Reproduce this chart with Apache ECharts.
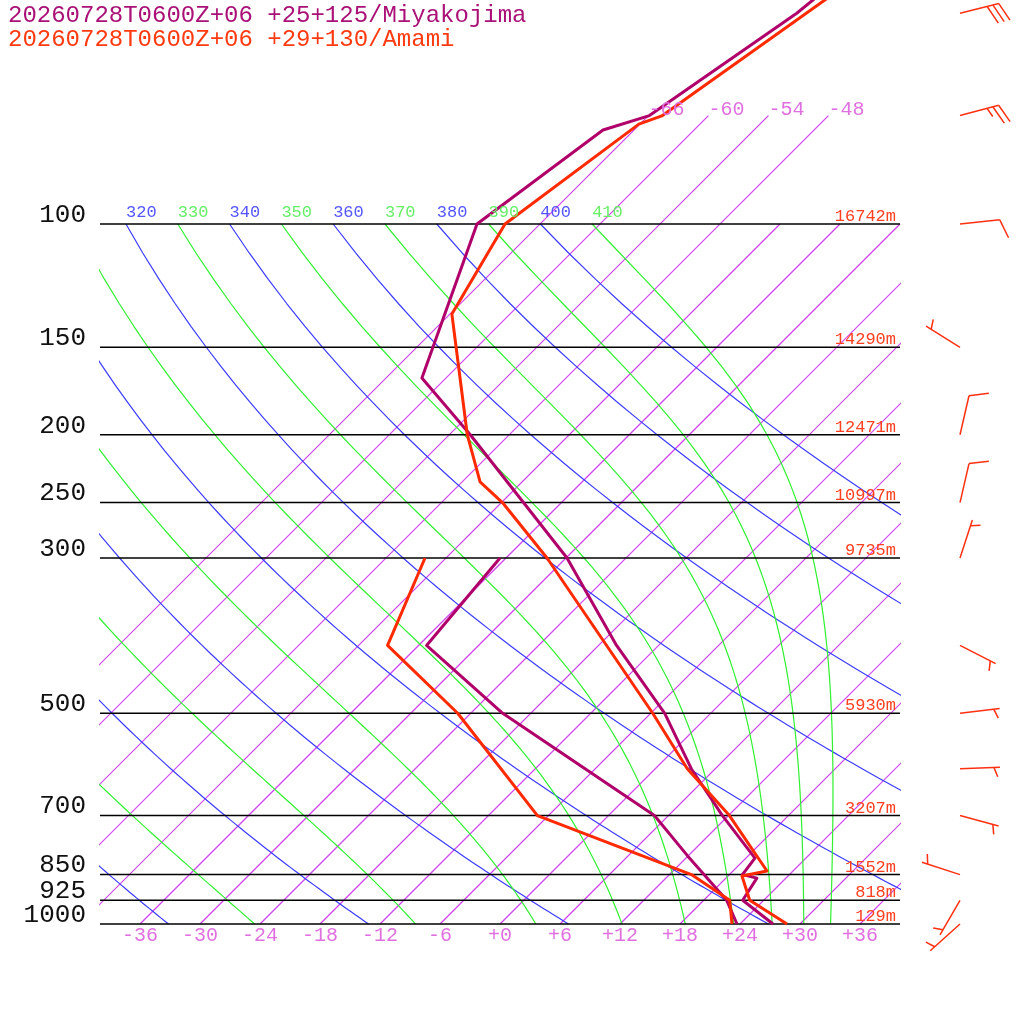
<!DOCTYPE html>
<html>
<head>
<meta charset="utf-8">
<script src="https://cdn.jsdelivr.net/npm/echarts@6/dist/echarts.min.js"></script>
<style>
html,body{margin:0;padding:0;background:#fff;}
#chart{width:1024px;height:1024px;}
</style>
</head>
<body>
<div id="chart"></div>
<script>
// sounding data: pressure (hPa) and temperature (C)
var miyaTempP = [40, 50, 70, 73.4, 100, 166, 200, 300, 400, 500, 600, 700, 805, 850, 860, 925, 1000]
var miyaTempT = [-59.9, -61.4, -65.9, -69.1, -72.3, -62.4, -51.9, -29.9, -16.2, -4.6, 3.6, 11.4, 18.9, 19.3, 21.1, 21.9, 27.3]
var miyaDewP = [300, 400, 500, 700, 800, 925, 1000]
var miyaDewT = [-36.6, -35.2, -20.8, 4.6, 12.0, 20.3, 23.7]

var amamiTempP = [40, 70, 72, 100, 134.5, 200, 233.6, 250, 300, 500, 600, 700, 840, 854, 925, 1000]
var amamiTempT = [-57.7, -64.6, -66.1, -69.5, -65.8, -52.2, -46.2, -41.9, -31.9, -5.8, 3.2, 12.1, 21.4, 19.4, 22.6, 28.7]
var amamiDewP = [300, 400, 500, 700, 850, 925, 1000]
var amamiDewT = [-44.1, -39.1, -25.3, -7.1, 14.2, 20.6, 23.2]

// Amami winds
var windP = [50, 70, 100, 150, 200, 250, 300, 400, 500, 600, 700, 850, 925, 1000]
var windDir = [76, 75, 84, 302, 13, 13, 18, 117, 83, 88, 105, 288, 210, 228]
var windKt = [30, 25, 10, 5, 10, 10, 5, 5, 5, 5, 5, 5, 5, 5]

// levels and heights
var levels = [100, 150, 200, 250, 300, 500, 700, 850, 925, 1000]
var heights = ['16742m', '14290m', '12471m', '10997m', '9735m', '5930m', '3207m', '1552m', '818m', '129m']

// background lines
var isotherms = [-66, -60, -54, -48, -42, -36, -30, -24, -18, -12, -6, 0, 6, 12, 18, 24, 30, 36]
var tempTicks = [-36, -30, -24, -18, -12, -6, 0, 6, 12, 18, 24, 30, 36]
var topIsoLabels = [-66, -60, -54, -48]
var dryThetas = [200, 220, 240, 260, 280, 300, 320, 340, 360, 380, 400]
var moistThetas = [230, 250, 270, 290, 310, 330, 350, 370, 390, 410]
var thetaLabels = [320, 330, 340, 350, 360, 370, 380, 390, 400, 410]

var SKEW = 70
var P_TOP = 1000 / Math.pow(10, 924 / 700)
var MONO = '"Liberation Mono", "DejaVu Sans Mono", monospace'

function sx(t, p) { return t + SKEW * Math.log10(1000 / p) }
function lp(p) { return Math.log10(p) }
function profile(ps, ts) { return ps.map(function (p, i) { return [sx(ts[i], p), lp(p)] }) }

function dryLine(th) {
    var pts = []
    for (var p = 100; p <= 1000; p += 10) pts.push([sx(th * Math.pow(p / 1000, 0.2857) - 273.15, p), lp(p)])
    return pts
}
function moistLine(th) {
    var T = th * Math.pow(0.1, 0.2857), p = 100, pts = [[sx(T - 273.15, p), lp(p)]]
    var Rd = 287, cp = 1005, L = 2.5e6
    function dTdp(T, p) {
        var tc = T - 273.15
        var es = 6.112 * Math.exp(17.67 * tc / (tc + 243.5))
        var rs = 0.622 * es / (p - es)
        return (Rd * T + L * rs) / (p * (cp + L * L * rs * 0.622 / (Rd * T * T)))
    }
    var dp = 1
    while (p < 1000) {
        var k1 = dTdp(T, p), k2 = dTdp(T + k1 * dp / 2, p + dp / 2), k3 = dTdp(T + k2 * dp / 2, p + dp / 2), k4 = dTdp(T + k3 * dp, p + dp)
        T += dp * (k1 + 2 * k2 + 2 * k3 + k4) / 6
        p += dp
        if (Math.round(p) % 10 === 0) pts.push([sx(T - 273.15, p), lp(p)])
    }
    return pts
}

// one custom series per polyline, drawn with explicit stroke and clipped to the grid
function lineSeries(pts, color, width, z) {
    return {
        type: 'custom', coordinateSystem: 'cartesian2d', xAxisIndex: 0, yAxisIndex: 0, silent: true, animation: false,
        z: z, data: [pts[0]],
        renderItem: function (params, api) {
            var px = pts.map(function (d) { return api.coord(d) })
            var cs = params.coordSys
            return { type: 'polyline', shape: { points: px },
                style: { stroke: color, lineWidth: width, fill: null, lineJoin: 'round' },
                clipPath: { type: 'rect', shape: { x: cs.x - 1, y: cs.y, width: cs.width + 2, height: cs.height + 2 } } }
        }
    }
}

function textSeries(items, z) {
    return {
        type: 'custom', coordinateSystem: 'cartesian2d', xAxisIndex: 0, yAxisIndex: 0, silent: true, animation: false, z: z,
        data: items.map(function (d) { return [d.x, d.y] }),
        renderItem: function (params, api) {
            var d = items[params.dataIndex]
            var c = api.coord([api.value(0), api.value(1)])
            return { type: 'text', x: c[0] + (d.dx || 0), y: c[1] + (d.dy || 0),
                style: { text: d.text, fill: d.color, font: d.font, align: d.align, verticalAlign: d.va } }
        }
    }
}

var series = []
isotherms.forEach(function (t) {
    var pt = t <= -48 ? 70 : 100
    series.push(lineSeries([[sx(t, 1000), 3], [sx(t, pt), lp(pt)]], '#d040f0', 1.2, 1))
})
dryThetas.forEach(function (th) { series.push(lineSeries(dryLine(th), '#3c3cff', 1.2, 2)) })
moistThetas.forEach(function (th) { series.push(lineSeries(moistLine(th), '#30f030', 1.2, 2)) })
levels.forEach(function (p) { series.push(lineSeries([[-40, lp(p)], [40, lp(p)]], '#000', 1.5, 3)) })

series.push(lineSeries(profile(miyaTempP, miyaTempT), '#b0006a', 3, 10))
series.push(lineSeries(profile(miyaDewP, miyaDewT), '#b0006a', 3, 10))
series.push(lineSeries(profile(amamiTempP, amamiTempT), '#ff2a00', 3, 11))
series.push(lineSeries(profile(amamiDewP, amamiDewT), '#ff2a00', 3, 11))

// labels
series.push(textSeries(levels.map(function (p) {
    return { x: -40, y: lp(p), text: String(p), color: '#111', font: '26px ' + MONO, align: 'right', va: 'bottom', dx: -14, dy: 4 }
}), 20))
series.push(textSeries(levels.map(function (p, i) {
    return { x: 40, y: lp(p), text: heights[i], color: '#ff4020', font: '17px ' + MONO, align: 'right', va: 'bottom', dx: -4, dy: 1 }
}), 20))
series.push(textSeries(tempTicks.map(function (t) {
    return { x: t, y: 3, text: (t < 0 ? '' : '+') + t, color: '#e070e0', font: '20px ' + MONO, align: 'center', va: 'top', dy: 2 }
}), 20))
series.push(textSeries(topIsoLabels.map(function (t) {
    return { x: sx(t, 70), y: lp(70), text: String(t), color: '#e070e0', font: '20px ' + MONO, align: 'left', va: 'bottom', dy: 4 }
}), 20))
series.push(textSeries(thetaLabels.map(function (th) {
    return { x: sx(th * Math.pow(0.1, 0.2857) - 273.15, 100), y: lp(100), text: String(th),
        color: (th / 10) % 2 === 0 ? '#5555ff' : '#66ee66', font: '17px ' + MONO, align: 'left', va: 'bottom', dy: -3 }
}), 20))

// wind barbs
series.push({
    type: 'custom', coordinateSystem: 'cartesian2d', xAxisIndex: 1, yAxisIndex: 1, silent: true, animation: false, z: 15,
    data: windP.map(function (p) { return [0, lp(p)] }),
    renderItem: function (params, api) {
        var i = params.dataIndex
        var b = api.coord([api.value(0), api.value(1)])
        var a = windDir[i] * Math.PI / 180
        var ux = Math.sin(a), uy = -Math.cos(a)
        var r = 70 * Math.PI / 180
        var vx = ux * Math.cos(r) - uy * Math.sin(r), vy = ux * Math.sin(r) + uy * Math.cos(r)
        var L = 40, ex = b[0] + ux * L, ey = b[1] + uy * L
        var st = { stroke: '#ff3010', lineWidth: 1.5 }
        var kids = [{ type: 'line', shape: { x1: b[0], y1: b[1], x2: ex, y2: ey }, style: st }]
        var full = Math.floor(windKt[i] / 10), half = windKt[i] % 10 >= 5
        var pos = 0
        for (var k = 0; k < full; k++, pos++) {
            var sx0 = ex - ux * 6 * pos, sy0 = ey - uy * 6 * pos
            kids.push({ type: 'line', shape: { x1: sx0, y1: sy0, x2: sx0 + vx * 20, y2: sy0 + vy * 20 }, style: st })
        }
        if (half) {
            if (pos === 0) pos = 1
            var hx = ex - ux * 6 * pos, hy = ey - uy * 6 * pos
            kids.push({ type: 'line', shape: { x1: hx, y1: hy, x2: hx + vx * 10, y2: hy + vy * 10 }, style: st })
        }
        return { type: 'group', children: kids }
    }
})

var option = {
    animation: false,
    backgroundColor: '#fff',
    title: [
        { text: '20260728T0600Z+06 +25+125/Miyakojima', left: 8, top: 4, padding: 0,
          textStyle: { fontFamily: MONO, fontSize: 24, fontWeight: 'normal', color: '#aa1177' } },
        { text: '20260728T0600Z+06 +29+130/Amami', left: 8, top: 28, padding: 0,
          textStyle: { fontFamily: MONO, fontSize: 24, fontWeight: 'normal', color: '#ff3a10' } }
    ],
    grid: [
        { left: 100, right: 124, top: 0, bottom: 100 },
        { left: 940, right: 44, top: 0, bottom: 100 }
    ],
    xAxis: [
        { gridIndex: 0, type: 'value', min: -40, max: 40, show: false },
        { gridIndex: 1, type: 'value', min: -1, max: 1, show: false }
    ],
    yAxis: [
        { gridIndex: 0, type: 'value', inverse: true, min: lp(P_TOP), max: 3, show: false },
        { gridIndex: 1, type: 'value', inverse: true, min: lp(P_TOP), max: 3, show: false }
    ],
    series: series
}
var chart = echarts.init(document.getElementById('chart'))
chart.setOption(option)
</script>
</body>
</html>
